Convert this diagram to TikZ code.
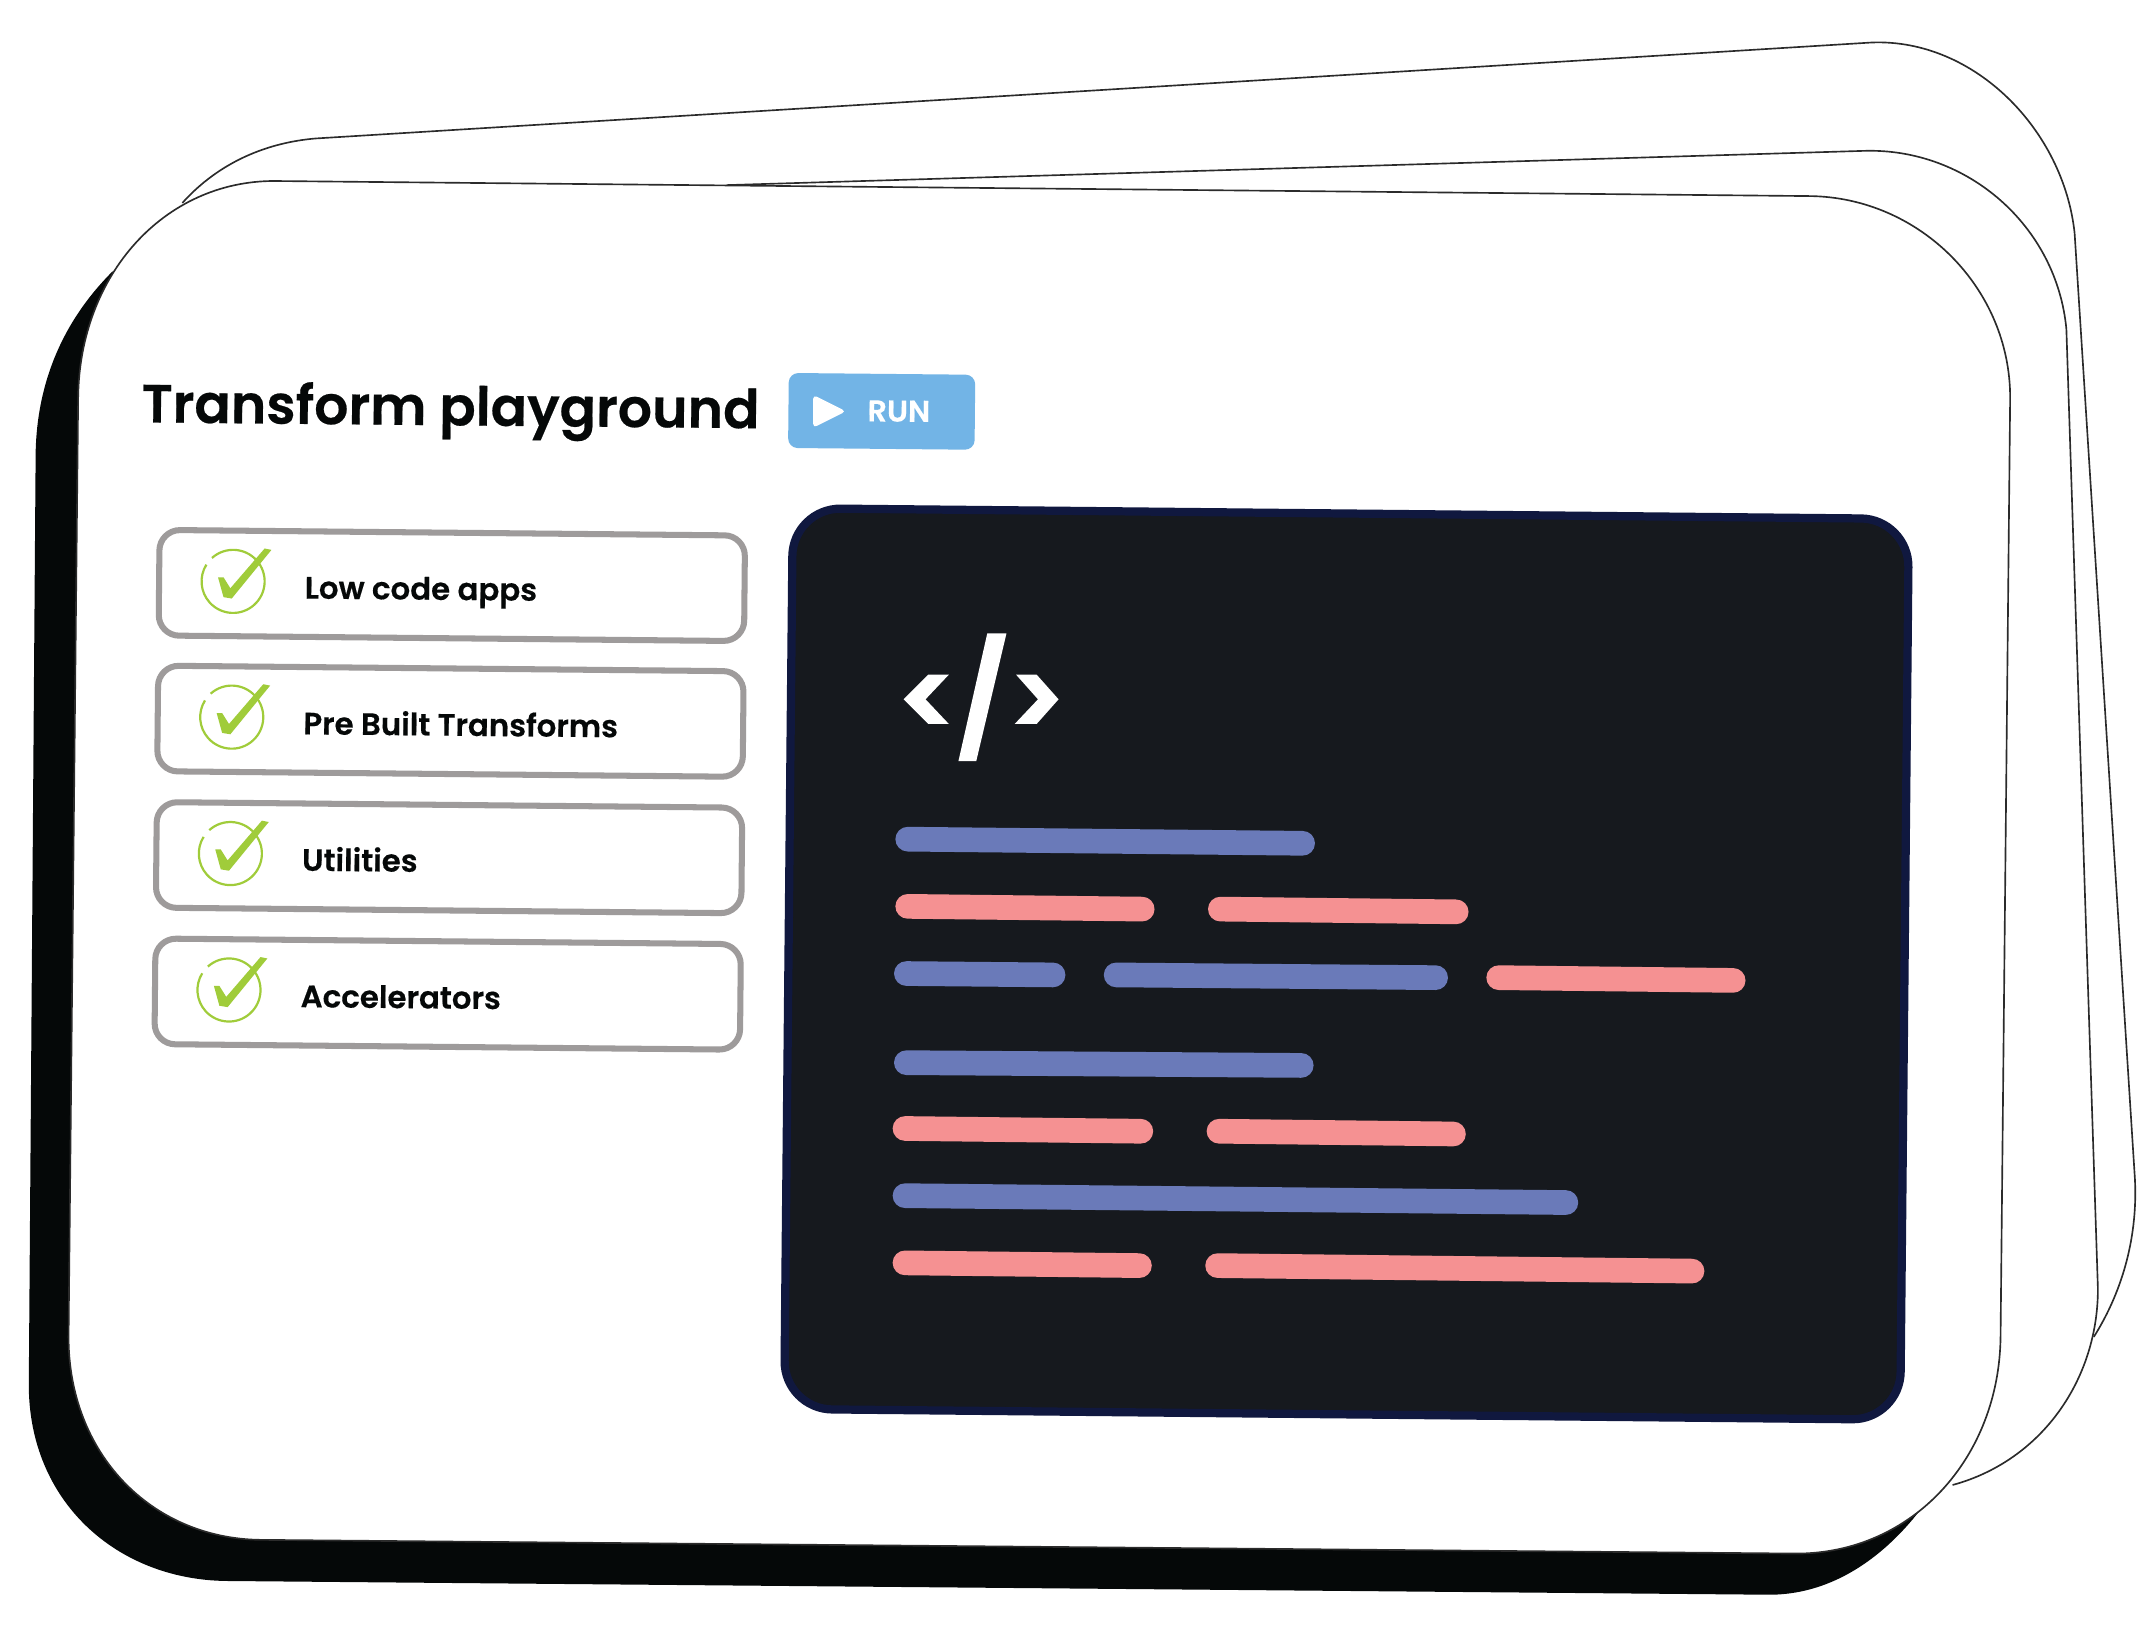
\documentclass[tikz,border=0pt]{standalone}
\usepackage{fontspec}
\usepackage{tikz}
\setmainfont{Poppins}[BoldFont={Poppins SemiBold},BoldFeatures={FakeBold=0.4}]
\definecolor{cardline}{HTML}{2B2B2B}
\definecolor{rowgray}{HTML}{9E9B9B}
\definecolor{tickgreen}{HTML}{A0CC3A}
\definecolor{runblue}{HTML}{72B4E6}
\definecolor{panelfill}{HTML}{16191E}
\definecolor{panelline}{HTML}{10183F}
\definecolor{barblue}{HTML}{6A7AB9}
\definecolor{barpink}{HTML}{F59192}
\definecolor{inkblack}{HTML}{050808}
\tikzset{
card/.style={color=cardline,line width=1.2pt},
rowbox/.style={draw=rowgray,line width=4.4pt,fill=white,rounded corners=15pt,minimum width=427pt,minimum height=77pt,rotate=-0.55,inner sep=0pt},
rowlabel/.style={anchor=base west,rotate=-0.55,inner sep=0pt,text=inkblack,font=\bfseries\fontsize{22.5}{28}\selectfont},
barblueline/.style={color=barblue,line width=18pt,line cap=round},
barpinkline/.style={color=barpink,line width=18pt,line cap=round}
}
\begin{document}
\begin{tikzpicture}[x=1pt,y=-1pt]
\useasboundingbox(0,0)rectangle(1568,1191.7);
% cards behind
\draw[card](133,148)..controls(160,118)and(195,104)..(230,101)--(1365,31)..controls(1440,28)and(1505,95)..(1513,170)--(1557,860)..controls(1559,900)and(1549,940)..(1527,975);
\draw[card](530,135)--(1360,110)..controls(1435,108)and(1500,165)..(1507,240)--(1530,940)..controls(1530,1005)and(1490,1065)..(1424,1083);
% shadow and front card
\fill[inkblack](82,198)..controls(45,235)and(27,280)..(26,330)--(21,1010)..controls(21,1095)and(85,1152)..(165,1153)--(1288,1163)..controls(1340,1164)and(1380,1130)..(1405,1095)--cycle;
\draw[card,fill=white](200,132)--(1320,143)..controls(1400,144)and(1466,210)..(1466,290)--(1459,975)..controls(1458,1063)and(1395,1133)..(1310,1133)--(190,1123)..controls(110,1122)and(50,1060)..(50,975)--(57,290)..controls(58,200)and(120,132)..(200,132)--cycle;
% heading
\node[anchor=base west,rotate=-0.55,inner sep=0pt,text=inkblack,font=\bfseries\fontsize{39.2}{48}\selectfont](title)at(103,308){Transform playground};
\node[fill=runblue,rounded corners=7pt,minimum width=136pt,minimum height=54.7pt,rotate=-0.55,inner sep=0pt](runbtn)at(643,300){};
\fill[white,rounded corners=3pt](593,288)--(617,300)--(593,312)--cycle;
\node[anchor=base,rotate=-0.55,inner sep=0pt,text=white,font=\bfseries\fontsize{22}{25}\selectfont](runtext)at(655.5,307.5){RUN};
% rows
\foreach \n/\cx/\cy/\txt in {1/329.5/427/Low code apps,2/328.5/526/Pre Built Transforms,3/327.5/625.5/Utilities,4/326.5/725/Accelerators}{
\node[rowbox](row\n)at(\cx,\cy){};
\begin{scope}[shift={(row\n.center)}]
\draw[tickgreen,line width=1.6pt](-159.5,-3)++(-132:23)arc[start angle=-132,end angle=212,radius=23];
\fill[tickgreen](-170.5,-6)--(-166.5,-6)--(-161.5,2)--(-136.5,-27)--(-131.5,-26)--(-160.5,9.5)--(-166.5,8.5)--cycle;
\node[rowlabel](label\n)at(-107.5,9.5){\txt};
\end{scope}
}
% code panel
\node[draw=panelline,fill=panelfill,line width=6pt,rounded corners=35pt,minimum width=814pt,minimum height=657pt,rotate=-0.55,inner sep=0pt](panel)at(982,703){};
\fill[white](659,510)--(677,492)--(692,492)--(675,510)--(692,528)--(677,528)--cycle;
\fill[white](720,462)--(734,462)--(712,555)--(699,555)--cycle;
\fill[white](772,510)--(756,492)--(741,492)--(757,510)--(740,528)--(756,528)--cycle;
\foreach \xa/\ya/\xb/\yb in {662/612/950/615,661/710/768/711,814/711/1047/713,661/775/949/777,660/872/1142/877}{
\draw[barblueline](\xa,\ya)--(\xb,\yb);
}
\foreach \xa/\ya/\xb/\yb in {662/661/833/663,890/663/1062/665,1093/713/1264/715,660/823/832/825,889/825/1060/827,660/921/831/923,888/923/1234/927}{
\draw[barpinkline](\xa,\ya)--(\xb,\yb);
}
\end{tikzpicture}
\end{document}
